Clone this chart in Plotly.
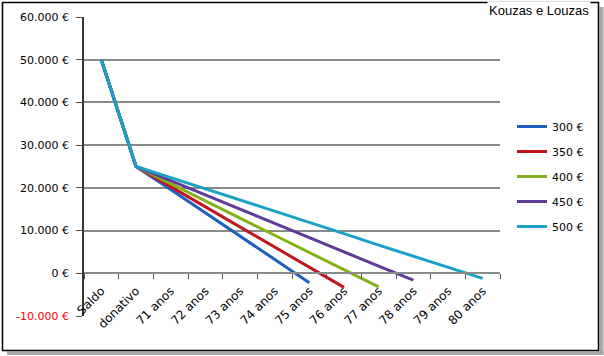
import plotly.graph_objects as go

categories = ["Saldo", "donativo", "71 anos", "72 anos", "73 anos", "74 anos",
              "75 anos", "76 anos", "77 anos", "78 anos", "79 anos", "80 anos"]
series_names = ["300 €", "350 €", "400 €", "450 €", "500 €"]
s300 = [50000, 25000, 19600, 14100, 8700, 3300, -2200]
s350 = [50000, 25000, 20300, 15600, 10800, 6100, 1400, -3300]
s400 = [50000, 25000, 21000, 16900, 12900, 8900, 4900, 800, -3200]
s450 = [50000, 25000, 21700, 18300, 15000, 11700, 8300, 5000, 1700, -1600]
s500 = [50000, 25000, 22400, 19800, 17100, 14500, 11900, 9300, 6600, 4000, 1400, -1200]
colors = ["#1F5FBF", "#C0171E", "#84B21F", "#5F3B98", "#1BA1C6"]
ytick_vals = [-10000, 0, 10000, 20000, 30000, 40000, 50000, 60000]
ytick_text = ["<span style='color:#FF0000'>-10.000 €</span>", "0 €", "10.000 €", "20.000 €",
              "30.000 €", "40.000 €", "50.000 €", "60.000 €"]

W, H = 604, 356
L, R, T, B = 84, 104, 17, 40
pw, ph = W - L - R, H - T - B


def px(x):
    return (x - L) / pw


def py(y):
    return (H - B - y) / ph


fig = go.Figure()
for name, vals, col in zip(series_names, [s300, s350, s400, s450, s500], colors):
    fig.add_trace(go.Scatter(x=categories[:len(vals)], y=vals, mode="lines", name=name,
                             legendgroup=name,
                             line=dict(color=col, width=3)))

font = dict(family="DejaVu Sans", size=11, color="#000000")
xfont = dict(family="DejaVu Sans", size=12, color="#000000")

fig.update_layout(
    width=W, height=H,
    margin=dict(l=L, r=R, t=T, b=B, autoexpand=False),
    paper_bgcolor="white", plot_bgcolor="rgba(0,0,0,0)",
    font=font,
    showlegend=True,
    legend=dict(x=px(512), y=py(112), xanchor="left", yanchor="top",
                font=font, tracegroupgap=6, bgcolor="rgba(0,0,0,0)",
                itemwidth=30),
    xaxis=dict(type="category", categoryorder="array", categoryarray=categories,
               range=[-0.5, len(categories) - 0.5],
               anchor="free", position=1 / 7,
               showline=True, linecolor="#8A8A8A", linewidth=2,
               showgrid=False, zeroline=False,
               ticks="outside", ticklen=5, tickcolor="#555555", tickwidth=1,
               tickson="boundaries", tickangle=-45, tickfont=xfont,
               ticklabelstandoff=5, automargin=False),
    yaxis=dict(range=[-10000, 60000], tickvals=ytick_vals, ticktext=ytick_text,
               showline=True, linecolor="#333333", linewidth=1.5,
               showgrid=True, gridcolor="#8A8A8A", gridwidth=2, zeroline=False,
               ticks="outside", ticklen=6, tickcolor="#555555", tickwidth=1,
               ticklabelstandoff=5, tickfont=font, automargin=False),
    shapes=[
        dict(type="rect", xref="paper", yref="paper",
             x0=px(599.5), x1=px(603.5), y0=py(355), y1=py(7),
             fillcolor="#A8A8A8", line=dict(width=0), layer="above"),
        dict(type="rect", xref="paper", yref="paper",
             x0=px(7), x1=px(603.5), y0=py(355), y1=py(351.5),
             fillcolor="#A8A8A8", line=dict(width=0), layer="above"),
        dict(type="rect", xref="paper", yref="paper",
             x0=px(2.5), x1=px(598.5), y0=py(350.5), y1=py(2.5),
             fillcolor="rgba(0,0,0,0)", line=dict(color="#000000", width=1.5), layer="above"),
    ],
    annotations=[
        dict(text="Kouzas e Louzas", xref="paper", yref="paper",
             x=px(591), y=py(1), xanchor="right", yanchor="top", showarrow=False,
             font=dict(family="Liberation Sans", size=13, color="#000000"),
             bgcolor="white"),
    ],
)

fig.write_html("out.html", config={"displayModeBar": False},
               post_script="document.body.style.margin='0';document.body.style.padding='0';"
                           "document.body.style.overflow='hidden';")
